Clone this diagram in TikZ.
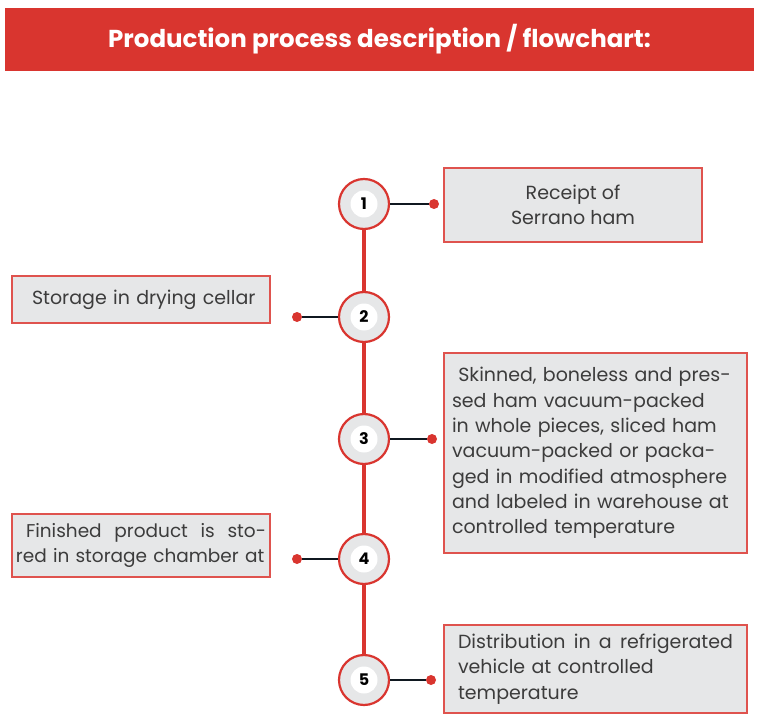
\documentclass[tikz,border=0pt]{standalone}
\usepackage{fontspec}
\setmainfont{Poppins}
\usetikzlibrary{positioning}

\definecolor{hamred}{HTML}{D9352F}
\definecolor{boxgray}{HTML}{E6E7E8}
\definecolor{lineblack}{HTML}{101820}
\definecolor{txtgray}{HTML}{3C3C3C}

\begin{document}
\begin{tikzpicture}[x=1pt,y=-1pt]

\tikzset{
    stepcirc/.style={circle,draw=hamred,line width=2.2pt,fill=boxgray,minimum size=50pt,inner sep=0pt},
    num/.style={circle,fill=white,minimum size=27pt,inner sep=0pt,text=black,font=\bfseries\fontsize{16}{16}\selectfont},
    dot/.style={circle,fill=hamred,minimum size=10pt,inner sep=0pt},
    infobox/.style={draw=hamred!85!white,line width=1.2pt,fill=boxgray,text=txtgray,inner ysep=0pt,font=\fontsize{19}{25.3}\selectfont},
    link/.style={draw=lineblack,line width=2.4pt}}

\useasboundingbox (0,0) rectangle (758,714);

% header
\node[fill=hamred,minimum width=749pt,minimum height=63pt,text=white,font=\bfseries\fontsize{24.5}{24.5}\selectfont] (title) at (379.5,39.5) {Production process description / flowchart:};

% steps
\node[stepcirc] (c1) at (364,204) {};
\node[stepcirc] (c2) at (364,317) {};
\node[stepcirc] (c3) at (364,439) {};
\node[stepcirc] (c4) at (364,559) {};
\node[stepcirc] (c5) at (364,680) {};

\draw[hamred,line width=4pt] (c1.south) -- (c2.north);
\draw[hamred,line width=4pt] (c2.south) -- (c3.north);
\draw[hamred,line width=4pt] (c3.south) -- (c4.north);
\draw[hamred,line width=4pt] (c4.south) -- (c5.north);

\node[num] (n1) at (c1) {1};
\node[num] (n2) at (c2) {2};
\node[num] (n3) at (c3) {3};
\node[num] (n4) at (c4) {4};
\node[num] (n5) at (c5) {5};

% dots
\node[dot] (d1) at (434,204) {};
\node[dot] (d2) at (297,317) {};
\node[dot] (d3) at (432,439) {};
\node[dot] (d4) at (297,559) {};
\node[dot] (d5) at (431,680) {};

\draw[link] (c1.east) -- (d1);
\draw[link] (d2) -- (c2.west);
\draw[link] (c3.east) -- (d3);
\draw[link] (d4) -- (c4.west);
\draw[link] (c5.east) -- (d5);

% boxes
\node[infobox,minimum width=258pt,minimum height=74pt,align=center] (b1) at (573,205) {Receipt of\\Serrano ham};
\node[infobox,minimum width=258pt,minimum height=47pt,inner xsep=10pt,text width=238pt,align=left] (b2) at (141,299.5) {\hspace*{10pt}Storage in drying cellar};
\node[infobox,minimum width=303pt,minimum height=200pt,inner xsep=8pt,text width=287pt,align=left] (b3) at (595.5,453) {~Skinned, boneless and pres-\\sed ham vacuum-packed\\in whole pieces, sliced ham\\vacuum-packed or packa-\\ged in modified atmosphere\\and labeled in warehouse at\\controlled temperature};
\node[infobox,minimum width=258pt,minimum height=63pt,inner xsep=4pt,text width=250pt,align=left,font=\fontsize{18.5}{25.3}\selectfont] (b4) at (141,545.5) {\hspace*{10pt}Finished\hfill product\hfill is\hfill sto-\\red in storage chamber at};
\node[infobox,minimum width=303pt,minimum height=88pt,inner xsep=14pt,text width=275pt,align=left] (b5) at (595.5,669) {Distribution\hfill in\hfill a\hfill refrigerated\\vehicle at controlled\\temperature};

\end{tikzpicture}
\end{document}
